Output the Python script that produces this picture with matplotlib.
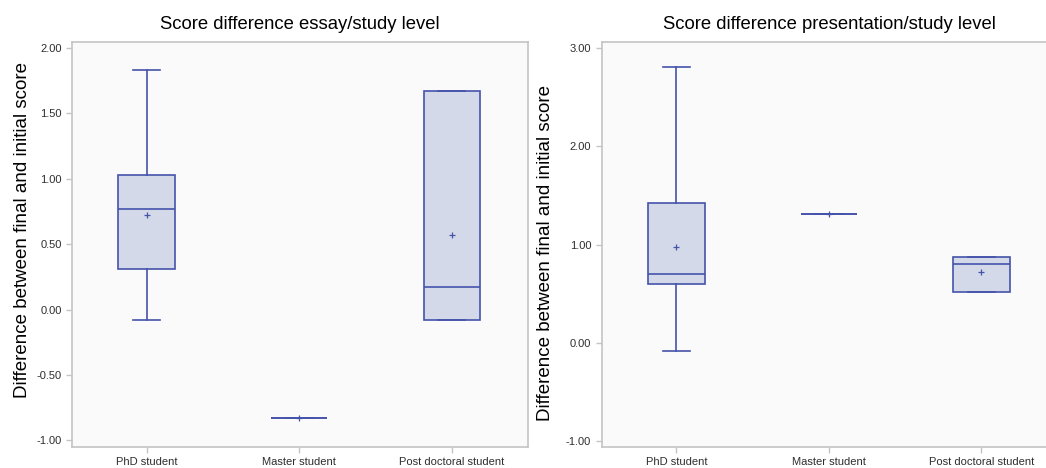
import matplotlib
matplotlib.use("Agg")
import matplotlib.pyplot as plt
from matplotlib.ticker import FormatStrFormatter

plt.rcParams['font.family'] = ['Liberation Sans', 'DejaVu Sans']

groups = ['PhD student', 'Master student', 'Post doctoral student']

# essay panel: whisker low, Q1, median, Q3, whisker high, mean
essay_lo = [-0.08, -0.83, -0.08]
essay_q1 = [0.31, -0.83, -0.08]
essay_med = [0.77, -0.83, 0.17]
essay_q3 = [1.03, -0.83, 1.67]
essay_hi = [1.83, -0.83, 1.67]
essay_mean = [0.72, -0.83, 0.57]
essay_ticks = [-1.0, -0.5, 0.0, 0.5, 1.0, 1.5, 2.0]

# presentation panel
pres_lo = [-0.08, 1.31, 0.52]
pres_q1 = [0.60, 1.31, 0.52]
pres_med = [0.70, 1.31, 0.80]
pres_q3 = [1.42, 1.31, 0.87]
pres_hi = [2.81, 1.31, 0.87]
pres_mean = [0.98, 1.31, 0.72]
pres_ticks = [-1.0, 0.0, 1.0, 2.0, 3.0]

EDGE = '#4553aa'
FILL = '#d3d9e8'
GRID = '#c4c4c4'


def make_stats(lo, q1, med, q3, hi, mean):
    return [dict(whislo=a, q1=b, med=c, q3=d, whishi=e, mean=f, fliers=[])
            for a, b, c, d, e, f in zip(lo, q1, med, q3, hi, mean)]


def draw_panel(ax, stats, ticks, ylim, title, label_xy):
    line = dict(color=EDGE, linewidth=1.2)
    ax.bxp(stats, positions=range(len(groups)), widths=0.37, patch_artist=True,
           showmeans=True, showfliers=False,
           boxprops=dict(facecolor=FILL, edgecolor=EDGE, linewidth=1.2),
           medianprops=line, whiskerprops=line,
           capprops=line, capwidths=0.18,
           meanprops=dict(marker='+', markeredgecolor=EDGE, markersize=5,
                          markeredgewidth=0.9))
    ax.set_facecolor('#fafafa')
    ax.set_xlim(-0.49, 2.5)
    ax.set_ylim(*ylim)
    ax.set_yticks(ticks)
    ax.yaxis.set_major_formatter(FormatStrFormatter('%.2f'))
    ax.set_xticks(range(len(groups)))
    ax.set_xticklabels(groups)
    ax.tick_params(labelsize=8, labelcolor='#2e2e2e', color=GRID, length=4, width=1)
    for s in ax.spines.values():
        s.set_color(GRID)
        s.set_linewidth(1.2)
    ax.set_ylabel('Difference between final and initial score', fontsize=13.5,
                  color='black', va='center')
    ax.yaxis.set_label_coords(*label_xy)
    ax.set_title(title, fontsize=13.3, pad=9)


fig = plt.figure(figsize=(10.46, 4.68), dpi=100)
ax1 = fig.add_axes([0.0688, 0.0449, 0.436, 0.8654])
ax2 = fig.add_axes([0.5752, 0.0449, 0.436, 0.8654])

draw_panel(ax1, make_stats(essay_lo, essay_q1, essay_med, essay_q3, essay_hi, essay_mean),
           essay_ticks, (-1.051, 2.046), 'Score difference essay/study level',
           (-0.1086, 0.535))
draw_panel(ax2, make_stats(pres_lo, pres_q1, pres_med, pres_q3, pres_hi, pres_mean),
           pres_ticks, (-1.061, 3.064), 'Score difference presentation/study level',
           (-0.123, 0.479))

fig.savefig('out.png', dpi=100)
